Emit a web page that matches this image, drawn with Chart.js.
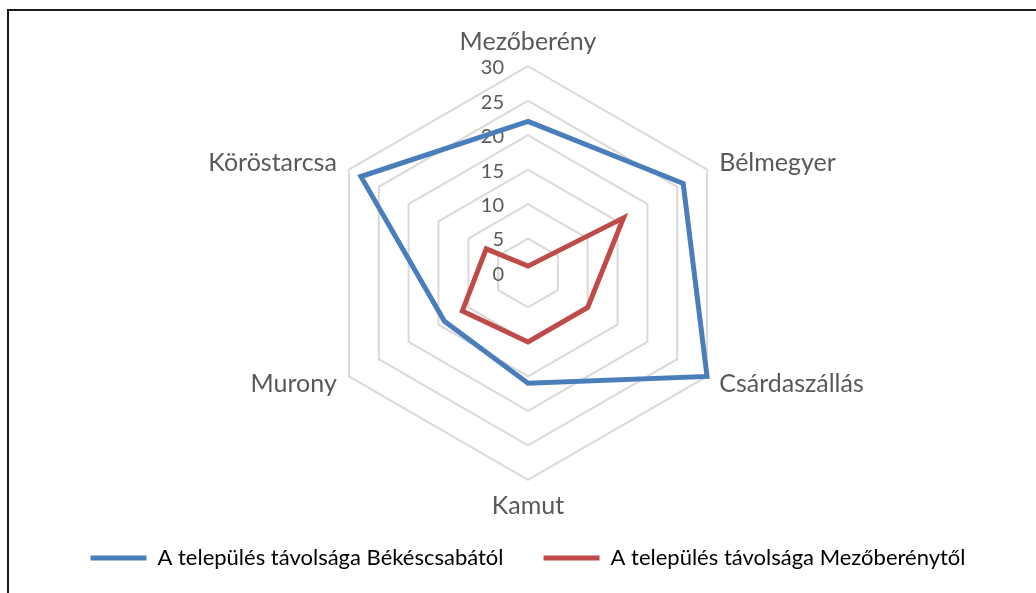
<!DOCTYPE html>
<html>
<head>
<meta charset="utf-8">
<script src="https://cdn.jsdelivr.net/npm/chart.js@4.4.1/dist/chart.umd.min.js"></script>
<style>
  html, body { margin: 0; padding: 0; background: #fff; overflow: hidden; }
  #frame { position: absolute; left: 7px; top: 9px; width: 1100px; height: 700px; border: 2px solid #1a1a1a; }
  #chart { position: absolute; left: 0; top: 0; }
</style>
</head>
<body>
<div id="frame"></div>
<canvas id="chart" width="1036" height="579"></canvas>
<script>
const towns = ['Mezőberény', 'Bélmegyer', 'Csárdaszállás', 'Kamut', 'Murony', 'Köröstarcsa'];
const fromBekescsaba = [22, 26, 30, 16, 14, 28];
const fromMezobereny = [1, 16, 10, 10, 11, 7];
const tickValues = [0, 5, 10, 15, 20, 25, 30];
const seriesNames = ['A település távolsága Békéscsabától', 'A település távolsága Mezőberénytől'];

const textColor = '#595959';

// tick numbers sit left of the vertical axis, under the lines
const sideTicks = {
  id: 'sideTicks',
  beforeDatasetsDraw(chart) {
    const s = chart.scales.r;
    const ctx = chart.ctx;
    ctx.save();
    ctx.font = '20px Lato';
    ctx.fillStyle = textColor;
    ctx.textAlign = 'right';
    ctx.textBaseline = 'middle';
    tickValues.forEach(v => {
      const d = s.getDistanceFromCenterForValue(v);
      ctx.fillText(String(v), s.xCenter - 24, s.yCenter - d + 1.5);
    });
    ctx.restore();
  }
};

new Chart(document.getElementById('chart'), {
  type: 'radar',
  data: {
    labels: towns,
    datasets: [
      {
        label: seriesNames[0],
        data: fromBekescsaba,
        borderColor: '#4a7ebb',
        backgroundColor: 'transparent',
        borderWidth: 5,
        pointRadius: 0,
        fill: false
      },
      {
        label: seriesNames[1],
        data: fromMezobereny,
        borderColor: '#be4b48',
        backgroundColor: 'transparent',
        borderWidth: 5,
        pointRadius: 0,
        fill: false
      }
    ]
  },
  options: {
    responsive: false,
    animation: false,
    devicePixelRatio: 1,
    layout: { padding: { top: 42, left: 20, right: 0, bottom: 0 } },
    elements: { line: { tension: 0 } },
    scales: {
      r: {
        min: 0,
        max: 30,
        ticks: { stepSize: 5, display: false },
        grid: { color: '#d9d9d9', lineWidth: 2 },
        angleLines: { display: false },
        pointLabels: {
          color: textColor,
          font: { family: 'Lato', size: 25, lineHeight: 0.01 },
          padding: (c) => (c.index === 0 ? 24 : c.index === 3 ? 26 : 14)
        }
      }
    },
    plugins: {
      tooltip: { enabled: false },
      legend: {
        position: 'bottom',
        labels: {
          color: textColor,
          font: { family: 'Lato', size: 22 },
          boxWidth: 56,
          boxHeight: 5,
          padding: 40,
          useBorderRadius: true,
          borderRadius: 2.5,
          generateLabels(chart) {
            return chart.data.datasets.map((ds, i) => ({
              text: ds.label,
              fillStyle: ds.borderColor,
              strokeStyle: ds.borderColor,
              lineWidth: 0,
              hidden: false,
              datasetIndex: i
            }));
          }
        }
      }
    }
  },
  plugins: [sideTicks]
});
</script>
</body>
</html>
